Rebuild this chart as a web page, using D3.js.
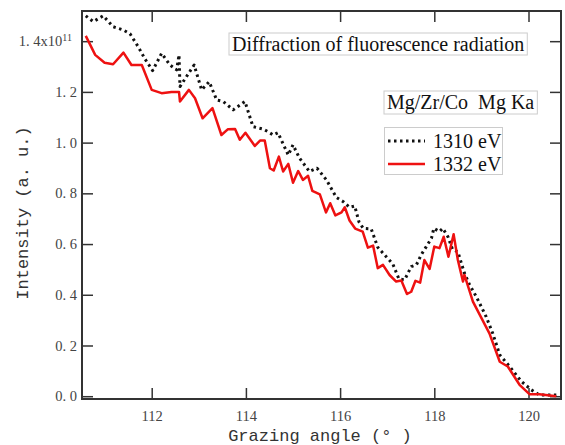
<!DOCTYPE html>
<html>
<head>
<meta charset="utf-8">
<script src="https://cdn.jsdelivr.net/npm/d3@7"></script>
<style>
  body { margin: 0; background: #fff; }
  svg { display: block; }
</style>
</head>
<body>
<div id="viz_container"></div>
<script>
// 1310 eV (black dotted)
const angle1310 = [110.60, 110.76, 110.97, 111.18, 111.40, 111.54, 111.71, 111.86, 112.02, 112.21,
    112.39, 112.53, 112.58, 112.60, 112.90, 113.06, 113.22, 113.38, 113.52, 113.73,
    113.98, 114.15, 114.37, 114.47, 114.58, 114.68, 114.90, 115.00, 115.14, 115.35,
    115.51, 115.71, 115.81, 115.92, 116.06, 116.20, 116.31, 116.40, 116.49, 116.66,
    116.80, 116.98, 117.12, 117.25, 117.37, 117.51, 117.62, 117.72, 117.83, 117.94,
    117.99, 118.11, 118.18, 118.29, 118.39, 118.50, 118.64, 118.75, 118.89, 118.96,
    119.10, 119.24, 119.39, 119.60, 119.85, 120.06, 120.23, 120.59];
const int1310 = [1.500, 1.477, 1.500, 1.457, 1.444, 1.429, 1.379, 1.329, 1.284, 1.352,
    1.306, 1.287, 1.346, 1.221, 1.306, 1.208, 1.240, 1.168, 1.162, 1.129,
    1.162, 1.063, 1.053, 1.043, 1.030, 1.039, 0.951, 0.991, 0.938, 0.886,
    0.899, 0.853, 0.820, 0.784, 0.768, 0.745, 0.750, 0.688, 0.662, 0.660,
    0.587, 0.550, 0.521, 0.462, 0.459, 0.511, 0.518, 0.557, 0.590, 0.623,
    0.662, 0.649, 0.662, 0.629, 0.577, 0.570, 0.485, 0.439, 0.393, 0.367,
    0.314, 0.248, 0.163, 0.117, 0.058, 0.025, 0.005, 0.005];

// 1332 eV (red solid)
const angle1332 = [110.60, 110.80, 111.00, 111.18, 111.40, 111.57, 111.79, 112.00, 112.21, 112.42,
    112.58, 112.60, 112.79, 112.92, 113.08, 113.29, 113.48, 113.62, 113.77, 113.87,
    113.99, 114.19, 114.30, 114.40, 114.51, 114.59, 114.70, 114.79, 114.90, 115.00,
    115.11, 115.21, 115.32, 115.41, 115.57, 115.70, 115.79, 115.90, 116.03, 116.10,
    116.20, 116.32, 116.48, 116.59, 116.70, 116.80, 116.91, 117.05, 117.19, 117.30,
    117.42, 117.51, 117.60, 117.70, 117.79, 117.90, 118.00, 118.11, 118.20, 118.30,
    118.41, 118.50, 118.61, 118.64, 118.82, 119.17, 119.39, 119.56, 119.81, 120.02,
    120.23, 120.59];
const int1332 = [1.421, 1.346, 1.315, 1.309, 1.355, 1.306, 1.306, 1.208, 1.195, 1.200,
    1.200, 1.162, 1.208, 1.175, 1.096, 1.136, 1.030, 1.053, 1.054, 1.011,
    1.039, 0.987, 1.008, 1.008, 0.899, 0.890, 0.945, 0.886, 0.916, 0.842,
    0.888, 0.853, 0.869, 0.810, 0.796, 0.725, 0.761, 0.713, 0.725, 0.745,
    0.693, 0.661, 0.649, 0.586, 0.594, 0.505, 0.518, 0.478, 0.452, 0.456,
    0.403, 0.412, 0.455, 0.448, 0.537, 0.502, 0.590, 0.584, 0.629, 0.550,
    0.639, 0.537, 0.452, 0.478, 0.373, 0.248, 0.136, 0.117, 0.045, 0.008,
    0.008, 0.000];

const xTicks = [112, 114, 116, 118, 120];
const yTicks = [0.0, 0.2, 0.4, 0.6, 0.8, 1.0, 1.2, 1.4];
const yTickLabels = ["0. 0", "0. 2", "0. 4", "0. 6", "0. 8", "1. 0", "1. 2", "1. 4x10"];

const seriesNames = ["1310 eV", "1332 eV"];
const seriesColors = ["#111", "#ee1111"];

// canvas
var margin = {top: 11, right: 4, bottom: 46, left: 82},
    totalW = 565, totalH = 445,
    width = totalW - margin.left - margin.right,
    height = totalH - margin.top - margin.bottom;

var svg = d3.select("#viz_container").append("svg")
    .attr("width", totalW)
    .attr("height", totalH);

var g = svg.append("g")
    .attr("transform", "translate(" + margin.left + "," + margin.top + ")");

var x = d3.scaleLinear().domain([110.52, 120.69]).range([0, width]);
var y = d3.scaleLinear().domain([-0.011, 1.519]).range([height, 0]);

var axisColor = "#333";
var tickFont = "'Liberation Serif', 'DejaVu Serif', serif";

// inward ticks on all four sides
var xAxisB = d3.axisBottom(x).tickValues(xTicks).tickSize(-11).tickFormat(d => d);
var xAxisT = d3.axisTop(x).tickValues(xTicks).tickSize(-11).tickFormat("");
var yAxisL = d3.axisLeft(y).tickValues(yTicks).tickSize(-11).tickFormat((d, i) => yTickLabels[i]);
var yAxisR = d3.axisRight(y).tickValues(yTicks).tickSize(-11).tickFormat("");

function styleAxis(sel) {
    sel.select(".domain").remove();
    sel.selectAll("line").attr("stroke", axisColor).attr("stroke-width", 1.5);
    sel.selectAll("text")
        .attr("fill", "#444")
        .style("font-family", tickFont)
        .style("font-size", "14.5px");
}

var gxb = g.append("g").attr("transform", "translate(0," + height + ")").call(xAxisB).call(styleAxis);
gxb.selectAll("text").attr("y", 12).attr("dy", "0.71em");
g.append("g").call(xAxisT).call(styleAxis);
var gyl = g.append("g").call(yAxisL).call(styleAxis);
gyl.selectAll("text").attr("x", -5);
g.append("g").attr("transform", "translate(" + width + ",0)").call(yAxisR).call(styleAxis);

// exponent on the top label
gyl.selectAll(".tick").filter(d => d === 1.4).select("text")
    .attr("x", -10)
  .append("tspan")
    .attr("dy", "-0.55em")
    .style("font-size", "10px")
    .text("11");

// frame
g.append("rect")
    .attr("width", width).attr("height", height)
    .attr("fill", "none")
    .attr("stroke", axisColor)
    .attr("stroke-width", 2);

// lines
var series = [
    {name: seriesNames[0], xs: angle1310, ys: int1310, color: seriesColors[0], dash: "2.5,3.5", w: 3},
    {name: seriesNames[1], xs: angle1332, ys: int1332, color: seriesColors[1], dash: null, w: 2.5}
];

var line = d3.line().x(d => x(d[0])).y(d => y(d[1]));

g.append("defs").append("clipPath").attr("id", "clip")
  .append("rect").attr("width", width).attr("height", height);

series.forEach(function(s) {
    g.append("path")
        .datum(s.xs.map((v, i) => [v, s.ys[i]]))
        .attr("clip-path", "url(#clip)")
        .attr("fill", "none")
        .attr("stroke", s.color)
        .attr("stroke-width", s.w)
        .attr("stroke-dasharray", s.dash)
        .attr("stroke-linejoin", "round")
        .attr("d", line);
});

// axis titles
var titleFont = "'Liberation Mono', 'DejaVu Sans Mono', monospace";
svg.append("text")
    .attr("x", 320).attr("y", 441)
    .attr("text-anchor", "middle")
    .attr("fill", "#333")
    .style("font-family", titleFont)
    .style("font-size", "17px")
    .text("Grazing angle (° )");

svg.append("text")
    .attr("transform", "translate(28,213) rotate(-90)")
    .attr("text-anchor", "middle")
    .attr("fill", "#333")
    .style("font-family", titleFont)
    .style("font-size", "17px")
    .text("Intensity (a. u.)");

// boxed annotations
var serif = "'Liberation Serif', 'Times New Roman', serif";
function boxedText(tx, ty, str, size) {
    var t = svg.append("text")
        .attr("x", tx).attr("y", ty)
        .attr("fill", "#111")
        .style("font-family", serif)
        .style("font-size", size + "px")
        .style("white-space", "pre")
        .text(str);
    var b = t.node().getBBox();
    svg.insert("rect", () => t.node())
        .attr("x", b.x - 3).attr("y", b.y)
        .attr("width", b.width + 6).attr("height", b.height)
        .attr("fill", "#fff")
        .attr("stroke", "#ccc")
        .attr("stroke-width", 1);
}
boxedText(232, 51, "Diffraction of fluorescence radiation", 20);
boxedText(387, 109, "Mg/Zr/Co  Mg Ka", 20);

// legend
var legend = svg.append("g").attr("class", "legend");
legend.append("rect")
    .attr("x", 384.5).attr("y", 127.5)
    .attr("width", 118).attr("height", 47)
    .attr("fill", "#fff")
    .attr("stroke", "#ccc");

var items = legend.selectAll(".item")
    .data(series)
  .enter().append("g")
    .attr("class", "item")
    .attr("transform", (d, i) => "translate(0," + (141 + i * 23) + ")");

items.append("line")
    .attr("x1", 388).attr("x2", 425)
    .attr("stroke", d => d.color)
    .attr("stroke-width", d => d.w)
    .attr("stroke-dasharray", d => d.dash);

items.append("text")
    .attr("x", 433).attr("y", 7)
    .attr("fill", "#111")
    .style("font-family", serif)
    .style("font-size", "20px")
    .text(d => d.name);
</script>
</body>
</html>
